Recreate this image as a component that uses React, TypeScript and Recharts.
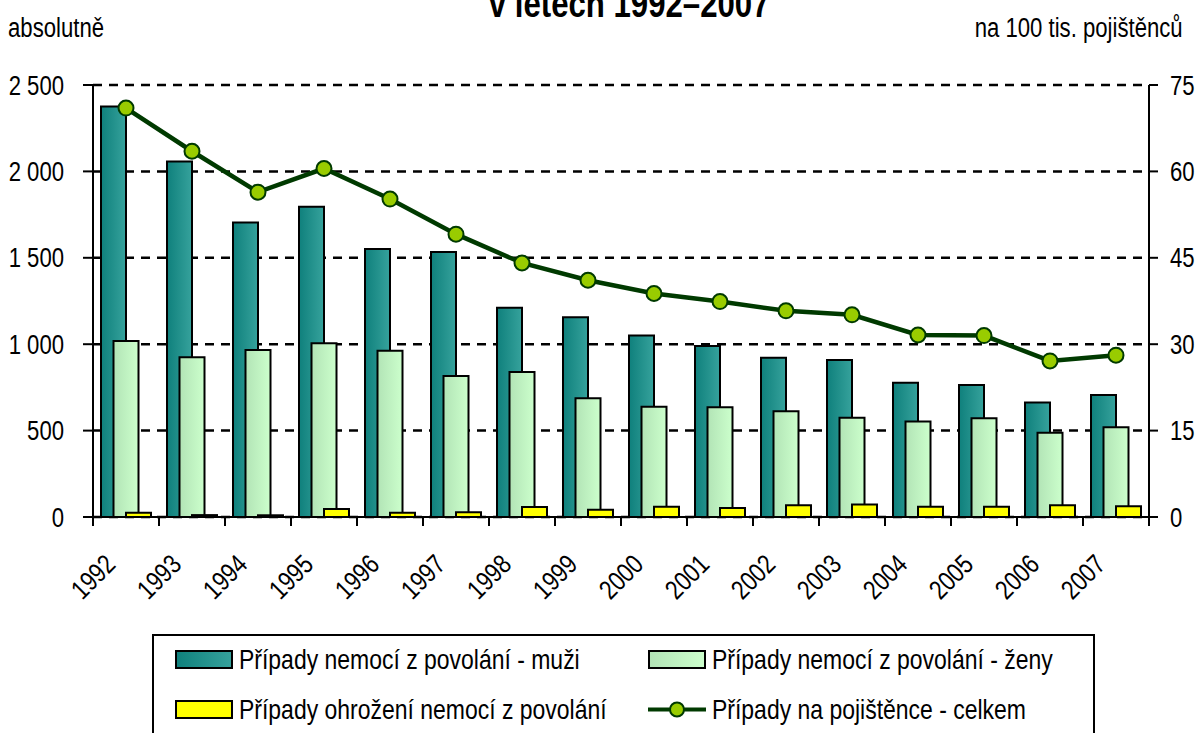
import { Bar, CartesianGrid, ComposedChart, Line, XAxis, YAxis } from "recharts";

const years = ["1992", "1993", "1994", "1995", "1996", "1997", "1998", "1999", "2000", "2001", "2002", "2003", "2004", "2005", "2006", "2007"];
const muzi = [2375, 2058, 1705, 1796, 1551, 1534, 1211, 1156, 1051, 990, 922, 909, 777, 764, 662, 706];
const zeny = [1018, 924, 966, 1005, 962, 816, 839, 687, 638, 635, 612, 575, 552, 571, 488, 519];
const ohrozeni = [25, 11, 10, 46, 25, 27, 58, 42, 60, 52, 68, 73, 60, 60, 68, 62];
const naPojistence = [71.0, 63.5, 56.4, 60.5, 55.2, 49.1, 44.1, 41.1, 38.8, 37.4, 35.8, 35.1, 31.6, 31.5, 27.1, 28.1];

const leftTicks = [0, 500, 1000, 1500, 2000, 2500];
const rightTicks = [0, 15, 30, 45, 60, 75];

const seriesNames = {
  muzi: "Případy nemocí z povolání - muži",
  zeny: "Případy nemocí z povolání - ženy",
  ohrozeni: "Případy ohrožení nemocí z povolání",
  celkem: "Případy na pojištěnce - celkem",
};

const data = years.map((year, i) => ({
  year,
  muzi: muzi[i],
  zeny: zeny[i],
  ohrozeni: ohrozeni[i],
  celkem: naPojistence[i],
}));

const W = 1198;
const H = 733;
const PLOT_LEFT = 93;
const PLOT_RIGHT = 1149;
const PLOT_TOP = 85;
const PLOT_BOTTOM = 517;
const X_AXIS_H = 100;
const BAND = (PLOT_RIGHT - PLOT_LEFT) / years.length;

// no Arial Narrow installed, so squeeze Liberation Sans (Arial metrics) instead
const FONT = "'Liberation Sans', Arial, sans-serif";
const NARROW = 0.82;
const LINE_COLOR = "#003a00";
const DOT_COLOR = "#99cc00";

const formatThousands = (v: number) => String(v).replace(/\B(?=(\d{3})+(?!\d))/g, " ");

function NarrowTick(props: any) {
  const { x, y, payload, textAnchor } = props;
  const label = props.format ? props.format(payload.value) : payload.value;
  return (
    <text
      transform={`translate(${x},${y}) scale(${NARROW},1)`}
      textAnchor={textAnchor}
      dy="0.355em"
      fontFamily={FONT}
      fontSize={27}
      fill="#000"
    >
      {label}
    </text>
  );
}

function YearTick(props: any) {
  const { x, payload, index } = props;
  const half = BAND / 2;
  const lx = x - 9;
  const ly = PLOT_BOTTOM + 49;
  return (
    <g>
      <line x1={x - half} x2={x - half} y1={PLOT_BOTTOM} y2={PLOT_BOTTOM + 9} stroke="#000" strokeWidth={2} />
      {index === years.length - 1 && (
        <line x1={x + half} x2={x + half} y1={PLOT_BOTTOM} y2={PLOT_BOTTOM + 9} stroke="#000" strokeWidth={2} />
      )}
      <text
        transform={`translate(${lx},${ly}) rotate(-45) scale(${NARROW},1)`}
        textAnchor="end"
        fontFamily={FONT}
        fontSize={27}
        fill="#000"
      >
        {payload.value}
      </text>
    </g>
  );
}

function Swatch({ from, to }: { from: string; to: string }) {
  const id = `sw-${from.slice(1)}`;
  return (
    <svg width={58} height={19} style={{ display: "block", flex: "none" }}>
      <defs>
        <linearGradient id={id} x1="0" y1="0" x2="1" y2="0">
          <stop offset="0%" stopColor={from} />
          <stop offset="100%" stopColor={to} />
        </linearGradient>
      </defs>
      <rect x={1} y={1} width={56} height={17} fill={`url(#${id})`} stroke="#000" strokeWidth={2} />
    </svg>
  );
}

function LineSwatch() {
  return (
    <svg width={58} height={19} style={{ display: "block", flex: "none" }}>
      <line x1={0} x2={58} y1={9.5} y2={9.5} stroke={LINE_COLOR} strokeWidth={4} />
      <circle cx={29} cy={9.5} r={7} fill={DOT_COLOR} stroke={LINE_COLOR} strokeWidth={2} />
    </svg>
  );
}

function NarrowText({ children, size, origin, bold }: { children: any; size: number; origin: string; bold?: boolean }) {
  return (
    <span
      style={{
        display: "inline-block",
        fontFamily: FONT,
        fontSize: size,
        fontWeight: bold ? "bold" : "normal",
        color: "#000",
        whiteSpace: "nowrap",
        transform: `scaleX(${NARROW})`,
        transformOrigin: origin,
      }}
    >
      {children}
    </span>
  );
}

function LegendItem({ icon, label, left, top }: { icon: any; label: string; left: number; top: number }) {
  return (
    <div style={{ position: "absolute", left, top, height: 19, display: "flex", alignItems: "center", gap: 6, whiteSpace: "nowrap", lineHeight: "19px" }}>
      {icon}
      <NarrowText size={28} origin="left center">
        {label}
      </NarrowText>
    </div>
  );
}

export default function App() {
  return (
    <div style={{ position: "absolute", left: 0, top: 0, width: W, height: H, background: "#fff", overflow: "hidden" }}>
      <div style={{ position: "absolute", left: 0, width: 1258, top: -18, textAlign: "center", lineHeight: "44px" }}>
        <NarrowText size={38} origin="center" bold>
          v letech 1992–2007
        </NarrowText>
      </div>
      <div style={{ position: "absolute", left: 8, top: 13, lineHeight: "30px" }}>
        <NarrowText size={27} origin="left">
          absolutně
        </NarrowText>
      </div>
      <div style={{ position: "absolute", right: 15, top: 13, lineHeight: "30px", textAlign: "right" }}>
        <NarrowText size={27} origin="right">
          na 100 tis. pojištěnců
        </NarrowText>
      </div>

      <div style={{ position: "absolute", left: 0, top: 0 }}>
        <ComposedChart
          width={W}
          height={H}
          data={data}
          margin={{ top: PLOT_TOP, right: 0, bottom: H - PLOT_BOTTOM - X_AXIS_H, left: 0 }}
          barGap={-12.5}
        >
          <defs>
            <linearGradient id="gMuzi" x1="0" y1="0" x2="1" y2="0">
              <stop offset="0%" stopColor="#0f807c" />
              <stop offset="100%" stopColor="#36a29c" />
            </linearGradient>
            <linearGradient id="gZeny" x1="0" y1="0" x2="1" y2="0">
              <stop offset="0%" stopColor="#b2e4b6" />
              <stop offset="100%" stopColor="#ccffcc" />
            </linearGradient>
          </defs>
          <CartesianGrid yAxisId="left" vertical={false} stroke="#000" strokeWidth={2.5} strokeDasharray="9 7" />
          <XAxis
            dataKey="year"
            height={X_AXIS_H}
            interval={0}
            tickLine={false}
            axisLine={{ stroke: "#000", strokeWidth: 2 }}
            tick={<YearTick />}
          />
          <YAxis
            yAxisId="left"
            width={PLOT_LEFT}
            domain={[0, 2500]}
            ticks={leftTicks}
            tickSize={10}
            tickMargin={19}
            axisLine={{ stroke: "#000", strokeWidth: 2 }}
            tickLine={{ stroke: "#000", strokeWidth: 2 }}
            tick={<NarrowTick format={formatThousands} />}
          />
          <YAxis
            yAxisId="right"
            orientation="right"
            width={W - PLOT_RIGHT}
            domain={[0, 75]}
            ticks={rightTicks}
            tickSize={9}
            tickMargin={12}
            axisLine={{ stroke: "#000", strokeWidth: 2 }}
            tickLine={{ stroke: "#000", strokeWidth: 2 }}
            tick={<NarrowTick />}
          />
          <Bar yAxisId="left" dataKey="muzi" name={seriesNames.muzi} barSize={25} fill="url(#gMuzi)" stroke="#000" strokeWidth={2} isAnimationActive={false} />
          <Bar yAxisId="left" dataKey="zeny" name={seriesNames.zeny} barSize={25} fill="url(#gZeny)" stroke="#000" strokeWidth={2} isAnimationActive={false} />
          <Bar yAxisId="left" dataKey="ohrozeni" name={seriesNames.ohrozeni} barSize={25} fill="#ffff00" stroke="#000" strokeWidth={2} isAnimationActive={false} />
          <Line
            yAxisId="right"
            type="linear"
            dataKey="celkem"
            name={seriesNames.celkem}
            stroke={LINE_COLOR}
            strokeWidth={4.5}
            dot={{ r: 7.5, fill: DOT_COLOR, stroke: LINE_COLOR, strokeWidth: 2 }}
            isAnimationActive={false}
          />
        </ComposedChart>
      </div>

      <div style={{ position: "absolute", left: 152, top: 634, width: 943, height: 120, border: "2px solid #000", boxSizing: "border-box" }} />
      <LegendItem icon={<Swatch from="#0f807c" to="#36a29c" />} label={seriesNames.muzi} left={175} top={650} />
      <LegendItem icon={<Swatch from="#b2e4b6" to="#ccffcc" />} label={seriesNames.zeny} left={648} top={650} />
      <LegendItem icon={<Swatch from="#ffff00" to="#ffff00" />} label={seriesNames.ohrozeni} left={175} top={700} />
      <LegendItem icon={<LineSwatch />} label={seriesNames.celkem} left={648} top={700} />
    </div>
  );
}
